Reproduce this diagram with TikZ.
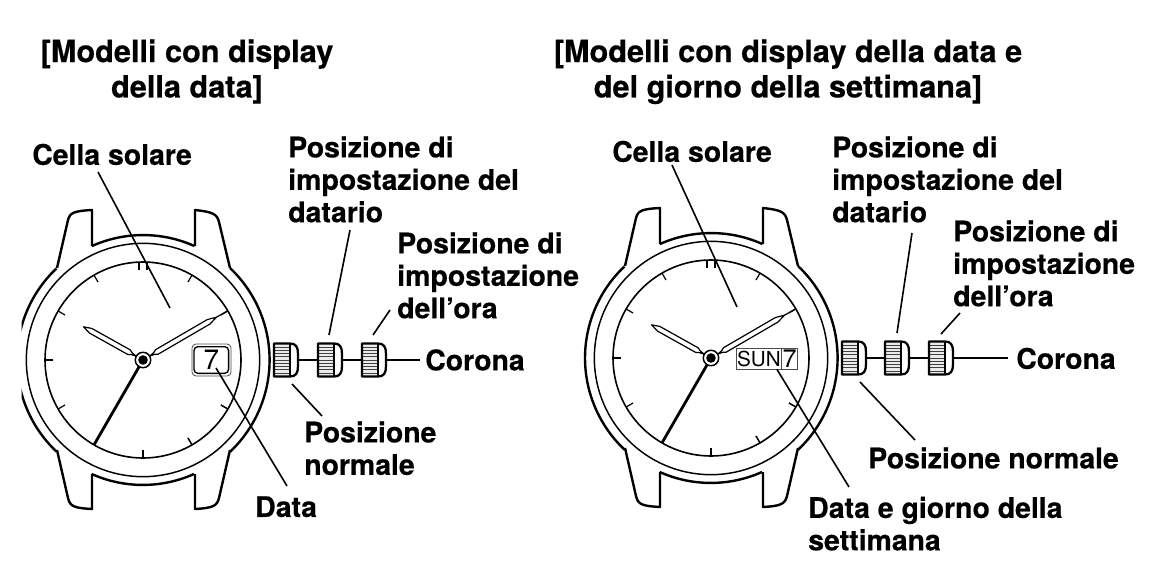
\documentclass[tikz,border=0pt]{standalone}
\usepackage{fontspec}
\setmainfont[BoldFont={TeX Gyre Heros Bold},BoldFeatures={FakeBold=0.4}]{TeX Gyre Heros}
\newcommand{\lbl}{\fontsize{21.3pt}{24.3pt}\selectfont\bfseries}
\newcommand{\ttl}{\fontsize{23pt}{26.5pt}\selectfont\bfseries}
\tikzset{
  x=0.75pt,y=-0.75pt,
  lab/.style={inner sep=0pt,align=left,anchor=north west,font=\lbl},
  titl/.style={inner sep=0pt,align=center,anchor=north,font=\ttl},
  leader/.style={line width=1.2pt,black},
  case/.style={line width=1.8pt,black,line join=round},
  conn/.style={line width=1.2pt,black},
  pics/crown/.style={code={
    \coordinate (-l) at (-1,0); \coordinate (-r) at (25,0);
    \fill[black!8] (1,-16) rectangle (16,16);
    \foreach \yy in {-13,-9.75,-6.5,-3.25,0,3.25,6.5,9.75,13}
      \draw[line width=0.7pt,black!75] (1,\yy) -- (16,\yy);
    \draw[line width=1.2pt] (16,-16.5) -- (16,16.5);
    \draw[line width=1.7pt,line join=round] (0,-16.5) -- (16,-16.5) .. controls (22,-16.5) and (24,-13) .. (24,-6) -- (24,6) .. controls (24,13) and (22,16.5) .. (16,16.5) -- (0,16.5) -- cycle;
  }},
  pics/watch/.style={code={
    \draw[line width=1.2pt] (0,0) circle [radius=73.5pt];
    \draw[line width=1.1pt] (0,0) circle [radius=87.5pt];
    \begin{scope}
      \clip (#1,-160) rectangle (140,160);
      \draw[case] (0,0) ++(133.4:94.5pt) arc [start angle=133.4,end angle=226.6,radius=94.5pt];
    \end{scope}
    \draw[case] (-51,-114) arc [start angle=114.1,end angle=65.9,radius=94pt];
    \draw[case] (51,114) arc [start angle=-65.9,end angle=-114.1,radius=94pt];
    \draw[case] (87,-92) arc [start angle=46.6,end angle=-46.6,radius=94.9pt];
    \draw[case] (-86,-92) -- (-75,-140) .. controls (-73,-147) and (-70,-149) .. (-51,-150) -- (-51,-114);
    \draw[case] (87,-92) -- (76,-138) .. controls (74,-146) and (70,-148) .. (52,-150) -- (52,-114);
    \draw[case] (-86,90) -- (-75,138) .. controls (-73,146) and (-70,148) .. (-51,149) -- (-51,114);
    \draw[case] (87,90) -- (76,138) .. controls (74,146) and (70,148) .. (52,149) -- (52,114);
    \foreach \a in {-60,-30,30,60,120,150,180,210,240,300,330,270}
      \draw[line width=0.9pt] (\a:67.5pt) -- (\a:73.5pt);
    \draw[line width=0.9pt] (-4,-90) -- (-4,-98);
    \draw[line width=0.9pt] (4,-90) -- (4,-98);
    \draw[line width=2.1pt] (0,0) -- (240:73.5pt);
    \begin{scope}[rotate=150.8]
      \draw[line width=0.9pt,line join=round,fill=white] (8,0) -- (13,1) -- (16,2.6) -- (60,2.6) -- (68,0) -- (60,-2.6) -- (16,-2.6) -- (13,-1) -- cycle;
    \end{scope}
    \draw[line width=0.9pt] (30.2:63.75pt) -- (30.2:73.5pt);
    \begin{scope}[rotate=30.2]
      \draw[line width=0.9pt,line join=round,fill=white] (8,0) -- (13,1) -- (16,2.6) -- (76,2.6) -- (85,0) -- (76,-2.6) -- (16,-2.6) -- (13,-1) -- cycle;
    \end{scope}
    \draw[line width=1.1pt,fill=white] (0,0) circle [radius=5.8pt];
    \fill (0,0) circle [radius=3.6pt];
  }}
}
\begin{document}
\begin{tikzpicture}
\useasboundingbox (0,0) rectangle (1160,574);
% ---------- left
\pic at (143,360) {watch=-121.5};
\draw[line width=0.6pt,black!70,rounded corners=3pt,fill=white] (192,344) rectangle (231,376);
\node[draw,line width=1pt,rounded corners=3pt,minimum width=26pt,minimum height=20pt,inner sep=0pt,font=\fontsize{21pt}{21pt}\selectfont] (dateL) at (211.3,360) {7};
\coordinate (tipSolL) at (170,308);
\coordinate (tipDataL) at (216,368);
\pic (c1) at (274,360) {crown};
\pic (c2) at (318,360) {crown};
\pic (c3) at (362,360) {crown};
\coordinate (c3end) at (420,360);
\draw[conn] (c1-r) -- (c2-l);
\draw[conn] (c2-r) -- (c3-l);
\draw[conn] (c3-r) -- (c3end);
\node[titl] (t1) at (187,39) {[Modelli con display\\della data]};
\node[lab] (solL) at (32,143.5) {Cella solare};
\node[lab] (datL) at (288,136) {Posizione di\\impostazione del\\datario};
\node[lab] (oraL) at (397,232) {Posizione di\\impostazione\\dell’ora};
\node[lab] (corL) at (425,349) {Corona};
\node[lab] (norL) at (304,421) {Posizione\\normale};
\node[lab] (dataL) at (255,496) {Data};
\coordinate (a1) at (98,172);
\coordinate (a2) at (350,230);
\coordinate (a3) at (329,335);
\coordinate (a4) at (390,310);
\coordinate (a5) at (373,335);
\coordinate (a6) at (292,384);
\coordinate (a7) at (322,416);
\coordinate (a8) at (287,486);
\draw[leader] (a1) -- (tipSolL);
\draw[leader] (a2) -- (a3);
\draw[leader] (a4) -- (a5);
\draw[leader] (a6) -- (a7);
\draw[leader] (tipDataL) -- (a8);
% ---------- right
\pic at (711,358) {watch=-140};
\node[draw=black!70,line width=0.7pt,minimum width=34.3pt,minimum height=16pt,inner sep=0pt,font=\fontsize{15.5pt}{15pt}\selectfont,fill=white] (sun) at (758.9,358.7) {SUN};
\node[draw=black!70,line width=0.7pt,minimum width=12pt,minimum height=16pt,inner sep=0pt,font=\fontsize{19pt}{15pt}\selectfont,fill=white] (seven) at (789.7,358.7) {7};
\pic (d1) at (842,358) {crown};
\pic (d2) at (885,358) {crown};
\pic (d3) at (929,358) {crown};
\coordinate (d3end) at (1008,358);
\draw[conn] (d1-r) -- (d2-l);
\draw[conn] (d2-r) -- (d3-l);
\draw[conn] (d3-r) -- (d3end);
\node[titl] (t2) at (788,39) {[Modelli con display della data e\\del giorno della settimana]};
\node[lab] (solR) at (612,140.5) {Cella solare};
\node[lab] (datR) at (832,136) {Posizione di\\impostazione del\\datario};
\node[lab] (oraR) at (953,220) {Posizione di\\impostazione\\dell’ora};
\node[lab] (corR) at (1016,347.5) {Corona};
\node[lab] (norR) at (868,447) {Posizione normale};
\node[lab] (dataR) at (808,496.5) {Data e giorno della\\settimana};
\coordinate (b1) at (672,165);
\coordinate (b2) at (737,307);
\coordinate (b3) at (912,233);
\coordinate (b4) at (897,333);
\coordinate (b5) at (960,313);
\coordinate (b6) at (941,334);
\coordinate (b7) at (860,382);
\coordinate (b8) at (915,440);
\coordinate (b9) at (777,369.5);
\coordinate (b10) at (849,487);
\draw[leader] (b1) -- (b2);
\draw[leader] (b3) -- (b4);
\draw[leader] (b5) -- (b6);
\draw[leader] (b7) -- (b8);
\draw[leader] (b9) -- (b10);
\end{tikzpicture}
\end{document}
